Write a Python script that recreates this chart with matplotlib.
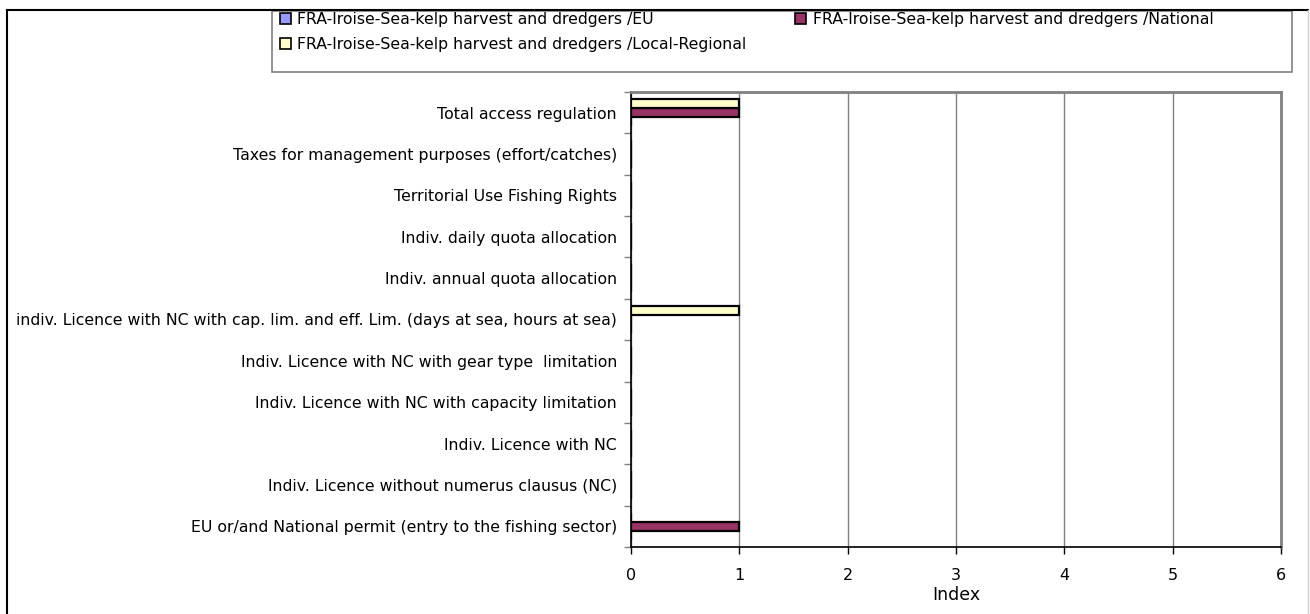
import numpy as np
import matplotlib.pyplot as plt
from matplotlib.lines import Line2D
from matplotlib.patches import Patch, Rectangle

plt.rcParams['font.family'] = ['DejaVu Sans']

categories = [
    'EU or/and National permit (entry to the fishing sector)',
    'Indiv. Licence without numerus clausus (NC)',
    'Indiv. Licence with NC',
    'Indiv. Licence with NC with capacity limitation',
    'Indiv. Licence with NC with gear type  limitation',
    'indiv. Licence with NC with cap. lim. and eff. Lim. (days at sea, hours at sea)',
    'Indiv. annual quota allocation',
    'Indiv. daily quota allocation',
    'Territorial Use Fishing Rights',
    'Taxes for management purposes (effort/catches)',
    'Total access regulation',
]
series_names = [
    'FRA-Iroise-Sea-kelp harvest and dredgers /EU',
    'FRA-Iroise-Sea-kelp harvest and dredgers /National',
    'FRA-Iroise-Sea-kelp harvest and dredgers /Local-Regional',
]
eu_values = [0, 0, 0, 0, 0, 0, 0, 0, 0, 0, 0]
national_values = [1, 0, 0, 0, 0, 0, 0, 0, 0, 0, 1]
local_values = [0, 0, 0, 0, 0, 1, 0, 0, 0, 0, 1]
colors = ['#9999FF', '#993366', '#FFFFCC']

W, H = 1310, 614
fig = plt.figure(figsize=(W / 100, H / 100), dpi=100)

# outer chart frame (clipped at right/bottom like the source)
fig.add_artist(Line2D([7 / W, 7 / W], [0, 1 - 10 / H], color='black', lw=1.5))
fig.add_artist(Line2D([7 / W, 1308 / W], [1 - 10 / H, 1 - 10 / H], color='black', lw=1.5))
fig.add_artist(Line2D([1308 / W, 1308 / W], [0, 1 - 10 / H], color='#d0d0d0', lw=1))

ax = fig.add_axes([631 / W, (H - 547) / H, 650 / W, (547 - 92) / H])

y = np.arange(len(categories))
h = 0.22
for i, (vals, c) in enumerate(zip([eu_values, national_values, local_values], colors)):
    ax.barh(y + (i - 1) * h, vals, height=h, color=c, edgecolor='black', linewidth=1.6, zorder=3)

ax.set_xlim(0, 6)
ax.set_ylim(-0.5, len(categories) - 0.5)
ax.set_xticks(range(7))
ax.tick_params(axis='x', direction='out', length=5, width=1, pad=10, labelsize=11.5)
ax.xaxis.grid(True, color='#808080', linewidth=1, zorder=0)

ax.set_yticks(np.arange(-0.5, len(categories), 1))
ax.set_yticklabels([])
ax.tick_params(axis='y', which='major', direction='out', length=5, width=1, color='#808080')
ax.set_yticks(y, minor=True)
ax.set_yticklabels(categories, minor=True, fontsize=11.3)
ax.tick_params(axis='y', which='minor', length=0, pad=10)

for s in ['top', 'right']:
    ax.spines[s].set_color('#808080')
    ax.spines[s].set_linewidth(2)
ax.spines['left'].set_color('black')
ax.spines['bottom'].set_color('black')
ax.spines['left'].set_linewidth(1.2)
ax.spines['bottom'].set_linewidth(1.2)

fig.text(956 / W, 1 - 595 / H, 'Index', fontsize=12.5, ha='center', va='center')

# legend box drawn separately so its size matches the source
fig.add_artist(Rectangle((272 / W, 1 - 72 / H), (1292 - 272) / W, (72 - 11) / H,
                         transform=fig.transFigure, facecolor='white',
                         edgecolor='#808080', linewidth=1.2))
handles = [Patch(facecolor=c, edgecolor='black', linewidth=1.2) for c in colors]
order = [0, 2, 1]
leg = fig.legend([handles[i] for i in order], [series_names[i] for i in order],
                 ncol=2, loc='upper left', bbox_to_anchor=(277 / W, 1 - 9 / H),
                 frameon=False, fontsize=11.3,
                 handlelength=0.7, handleheight=0.7, handletextpad=0.4,
                 columnspacing=3.1, labelspacing=0.62, borderpad=0.2,
                 borderaxespad=0)

fig.savefig('out.png', dpi=100)
